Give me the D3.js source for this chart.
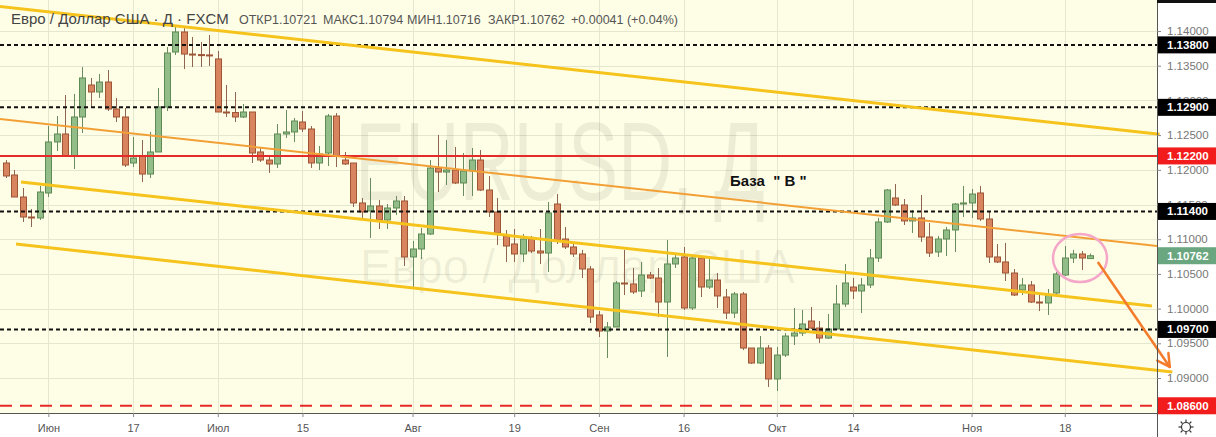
<!DOCTYPE html>
<html><head><meta charset="utf-8">
<script src="https://cdn.jsdelivr.net/npm/d3@7"></script>
<style>body{margin:0;background:#fff;}svg{display:block;font-family:"Liberation Sans",Arial,sans-serif;}</style>
</head><body><svg id="c" width="1216" height="437"></svg>
<script>
// ---- data ----
const opens=[1.12098,1.11925,1.11608,1.11320,1.11306,1.11666,1.12401,1.12516,1.12199,1.12761,
1.13222,1.13121,1.13265,1.12876,1.12761,1.12098,1.12199,1.11939,1.12257,1.12905,
1.13697,1.13986,1.13668,1.13660,1.13655,1.13597,1.12833,1.12825,1.12761,1.12833,
1.12257,1.12141,1.12084,1.12516,1.12545,1.12689,1.12588,1.12098,1.12242,1.12775,
1.12141,1.12098,1.11522,1.11407,1.11479,1.11277,1.11450,1.11551,1.10744,1.10859,
1.11075,1.12026,1.11968,1.11997,1.11810,1.11983,1.12141,1.11709,1.11392,1.11047,
1.10931,1.10787,1.11003,1.10830,1.10801,1.11507,1.11003,1.10888,1.10787,1.10571,
1.09908,1.09677,1.09735,1.10369,1.10355,1.10254,1.10484,1.10441,1.10095,1.10643,
1.10744,1.10009,1.10729,1.10311,1.10412,1.10167,1.09936,1.10211,1.09432,1.09216,
1.09432,1.08986,1.09331,1.09605,1.09648,1.09821,1.09720,1.09576,1.09706,1.10066,
1.10311,1.10254,1.10340,1.10729,1.11248,1.11594,1.11493,1.11263,1.11306,1.11032,
1.10816,1.11003,1.11133,1.11507,1.11522,1.11666,1.11291,1.10744,1.10672,1.10513,
1.10268,1.10340,1.10095,1.10081,1.10225,1.10484,1.10729,1.10787,1.10721];
const highs=[1.12141,1.11997,1.11738,1.11435,1.11767,1.12631,1.12775,1.13078,1.13093,1.13481,
1.13323,1.13380,1.13438,1.13035,1.12891,1.12473,1.12430,1.12545,1.13179,1.13769,
1.14058,1.14043,1.13914,1.13842,1.13942,1.13712,1.13222,1.13121,1.12948,1.12833,
1.12329,1.12185,1.12660,1.12862,1.12746,1.12847,1.12631,1.12343,1.12804,1.12818,
1.12257,1.12098,1.11594,1.11882,1.11565,1.11507,1.11623,1.11623,1.10975,1.11162,
1.12141,1.12502,1.12430,1.12329,1.12242,1.12314,1.12286,1.11911,1.11594,1.11133,
1.11147,1.11075,1.11047,1.11147,1.11536,1.11651,1.11176,1.10946,1.10845,1.10614,
1.09965,1.09807,1.10398,1.10845,1.10585,1.10672,1.10528,1.10585,1.10989,1.10787,
1.10888,1.10744,1.10758,1.10715,1.10513,1.10283,1.10240,1.10240,1.09432,1.09605,
1.09475,1.09447,1.09648,1.10009,1.09980,1.10023,1.09821,1.09922,1.10340,1.10643,
1.10441,1.10441,1.10859,1.11306,1.11723,1.11795,1.11579,1.11421,1.11637,1.11234,
1.11047,1.11176,1.11522,1.11767,1.11723,1.11767,1.11392,1.10931,1.10946,1.10571,
1.10441,1.10398,1.10196,1.10283,1.10528,1.10902,1.10845,1.10830,1.10794];
const lows=[1.11882,1.11608,1.11248,1.11176,1.11277,1.11608,1.12271,1.12199,1.12011,1.12530,
1.12905,1.13035,1.12847,1.12689,1.12040,1.12040,1.11824,1.11882,1.12257,1.12847,
1.13654,1.13452,1.13481,1.13481,1.13496,1.12833,1.12761,1.12689,1.12746,1.12098,
1.12112,1.11954,1.12026,1.12459,1.12401,1.12545,1.12026,1.11997,1.12055,1.12040,
1.12069,1.11464,1.11306,1.11018,1.11147,1.11147,1.11349,1.10614,1.10311,1.10715,
1.11061,1.11680,1.11781,1.11795,1.11623,1.11623,1.11694,1.11320,1.10917,1.10672,
1.10672,1.10672,1.10801,1.10643,1.10528,1.10931,1.10859,1.10744,1.10441,1.09792,
1.09590,1.09288,1.09735,1.10196,1.10211,1.10167,1.10427,1.09879,1.09303,1.10585,
1.09980,1.09980,1.10167,1.10283,1.10009,1.09850,1.09864,1.09403,1.09202,1.09202,
1.08871,1.08813,1.09303,1.09475,1.09605,1.09706,1.09504,1.09562,1.09706,1.10023,
1.10138,1.09936,1.10297,1.10672,1.11234,1.11479,1.11205,1.11090,1.10960,1.10744,
1.10744,1.10758,1.10816,1.11320,1.11306,1.11263,1.10657,1.10657,1.10398,1.10182,
1.10196,1.10081,1.09965,1.09908,1.10167,1.10470,1.10657,1.10556,1.10716];
const closes=[1.11911,1.11608,1.11320,1.11306,1.11680,1.12401,1.12516,1.12199,1.12761,1.13323,
1.13121,1.13265,1.12876,1.12761,1.12069,1.12170,1.11939,1.12257,1.12905,1.13683,
1.13986,1.13668,1.13660,1.13655,1.13650,1.12833,1.12825,1.12761,1.12833,1.12242,
1.12141,1.12084,1.12516,1.12545,1.12703,1.12588,1.12098,1.12228,1.12775,1.12199,
1.12084,1.11522,1.11392,1.11479,1.11277,1.11450,1.11551,1.10744,1.10859,1.11075,
1.12026,1.11968,1.11997,1.11810,1.11983,1.12141,1.11709,1.11392,1.11090,1.10902,
1.10787,1.11003,1.10830,1.10801,1.11378,1.10989,1.10888,1.10787,1.10571,1.09879,
1.09677,1.09735,1.10369,1.10355,1.10240,1.10484,1.10441,1.10095,1.10643,1.10729,
1.10009,1.10729,1.10311,1.10412,1.10182,1.09936,1.10211,1.09432,1.09216,1.09432,
1.08986,1.09331,1.09605,1.09648,1.09778,1.09720,1.09576,1.09706,1.10066,1.10369,
1.10254,1.10340,1.10729,1.11248,1.11709,1.11493,1.11263,1.11306,1.11032,1.10801,
1.11003,1.11133,1.11507,1.11522,1.11651,1.11291,1.10744,1.10672,1.10513,1.10196,
1.10340,1.10095,1.10081,1.10196,1.10499,1.10729,1.10787,1.10729,1.10762];

const xTickIdx=[5,15,25,35,48,60,70,80,91,100,114,125];
const xTickLabels=["Июн","17","Июл","15","Авг","19","Сен","16","Окт","14","Ноя","18"];
const yTicks=[1.09,1.095,1.10,1.105,1.11,1.115,1.12,1.125,1.13,1.135,1.14];
const blackLevels=[1.138,1.129,1.114,1.097];
const redLevels=[1.122];
const redDashedLevels=[1.086];
const lastPrice=1.10762;
// trend lines: [startIndex, startPrice, endIndex, endPrice]
const yellowLines=[[-0.71,1.14353,136.2,1.12512],[1.77,1.11824,135.3,1.10038],[1.18,1.10931,137.7,1.09086]];
const orangeLines=[[-0.71,1.12732,135.9,1.10902]];
const arrowLine=[128.9,1.10672,137.4,1.09159];
const circleCenter=[126.8,1.10729];
const header={title:"Евро / Доллар США · Д · FXCM",fields:["ОТКР1.10721","МАКС1.10794","МИН1.10716","ЗАКР1.10762","+0.00041 (+0.04%)"]};
const note="База  \" В \"";

// ---- layout ----
const W=1216,H=437,PW=1157,PH=413;
const svg=d3.select("#c");
const x=d3.scaleLinear().domain([-0.708,135.89]).range([0,PW]);
const y=d3.scaleLinear().domain([1.144467,1.084958]).range([0,PH]);

svg.append("rect").attr("width",W).attr("height",H).attr("fill","#fff");
svg.append("rect").attr("width",PW).attr("height",PH).attr("fill","#fefee6");
svg.append("defs").append("clipPath").attr("id","pc").append("rect").attr("width",PW).attr("height",PH);

// grid
const g=svg.append("g");
g.selectAll(".hg").data(yTicks).join("line").attr("x1",0).attr("x2",PW)
 .attr("y1",d=>Math.round(y(d))+0.5).attr("y2",d=>Math.round(y(d))+0.5).attr("stroke","#e4e6cf").attr("stroke-width",1);
g.selectAll(".vg").data(xTickIdx).join("line").attr("y1",0).attr("y2",PH)
 .attr("x1",d=>Math.round(x(d))+0.5).attr("x2",d=>Math.round(x(d))+0.5).attr("stroke","#e4e6cf").attr("stroke-width",1);

// watermark
svg.append("text").attr("x",355).attr("y",200).attr("font-size",112).attr("textLength",410)
 .attr("lengthAdjust","spacingAndGlyphs").attr("fill","#000").attr("fill-opacity",0.065).text("EURUSD, Д");
svg.append("text").attr("x",360).attr("y",283).attr("font-size",48).attr("textLength",435)
 .attr("lengthAdjust","spacingAndGlyphs").attr("fill","#000").attr("fill-opacity",0.065).text("Евро / Доллар США");

// candles
const idx=d3.range(opens.length);
const cg=svg.append("g").attr("clip-path","url(#pc)");
const up=i=>closes[i]>=opens[i];
cg.selectAll(".w").data(idx).join("line")
 .attr("x1",i=>Math.round(x(i))+0.5).attr("x2",i=>Math.round(x(i))+0.5)
 .attr("y1",i=>y(highs[i])).attr("y2",i=>y(lows[i]))
 .attr("stroke",i=>up(i)?"#6a8a60":"#8e6550").attr("stroke-width",1);
cg.selectAll(".b").data(idx).join("rect")
 .attr("x",i=>Math.round(x(i))-2.5).attr("width",6)
 .attr("y",i=>y(Math.max(opens[i],closes[i]))).attr("height",i=>Math.max(1,Math.abs(y(opens[i])-y(closes[i]))))
 .attr("fill",i=>up(i)?"#92bd89":"#d8845f").attr("stroke",i=>up(i)?"#5e8a55":"#9d5536").attr("stroke-width",1);

// horizontal levels
svg.selectAll(".bl").data(blackLevels).join("line").attr("x1",0).attr("x2",PW)
 .attr("y1",d=>y(d)).attr("y2",d=>y(d)).attr("stroke","#111").attr("stroke-width",2).attr("stroke-dasharray","4,3");
svg.selectAll(".rl").data(redLevels).join("line").attr("x1",0).attr("x2",PW)
 .attr("y1",d=>y(d)).attr("y2",d=>y(d)).attr("stroke","#e52a2a").attr("stroke-width",2);
svg.selectAll(".rdl").data(redDashedLevels).join("line").attr("x1",0).attr("x2",PW)
 .attr("y1",d=>y(d)).attr("y2",d=>y(d)).attr("stroke","#e52a2a").attr("stroke-width",2).attr("stroke-dasharray","12,8");

// trend lines
svg.selectAll(".yl").data(yellowLines).join("line")
 .attr("x1",d=>x(d[0])).attr("y1",d=>y(d[1])).attr("x2",d=>x(d[2])).attr("y2",d=>y(d[3]))
 .attr("stroke","#f5c31c").attr("stroke-width",3);
svg.selectAll(".ol").data(orangeLines).join("line")
 .attr("x1",d=>x(d[0])).attr("y1",d=>y(d[1])).attr("x2",d=>x(d[2])).attr("y2",d=>y(d[3]))
 .attr("stroke","#f2a035").attr("stroke-width",2);

// note text
svg.append("text").attr("x",730).attr("y",186).attr("font-size",15).attr("font-weight","bold").attr("fill","#111")
 .attr("xml:space","preserve").style("white-space","pre").text(note);

// circle
svg.append("ellipse").attr("cx",x(circleCenter[0])).attr("cy",y(circleCenter[1])).attr("rx",27).attr("ry",24)
 .attr("fill","none").attr("stroke","#f4a7c8").attr("stroke-width",2.5);

// arrow
const ax1=x(arrowLine[0]),ay1=y(arrowLine[1]),ax2=x(arrowLine[2]),ay2=y(arrowLine[3]);
svg.append("line").attr("x1",ax1).attr("y1",ay1).attr("x2",ax2).attr("y2",ay2).attr("stroke","#f47b2a").attr("stroke-width",2.5);
const ang=Math.atan2(ay2-ay1,ax2-ax1),hl=14,ha=0.5;
[ang+Math.PI-ha,ang+Math.PI+ha].forEach(a=>{
 svg.append("line").attr("x1",ax2).attr("y1",ay2).attr("x2",ax2+hl*Math.cos(a)).attr("y2",ay2+hl*Math.sin(a))
  .attr("stroke","#f47b2a").attr("stroke-width",2.5).attr("stroke-linecap","round");
});

// header
svg.append("text").attr("x",11).attr("y",24).attr("font-size",15).attr("fill","#444").text(header.title);
const hx=[239,323,407,488,571];
header.fields.forEach((t,i)=>svg.append("text").attr("x",hx[i]).attr("y",24).attr("font-size",12.5).attr("fill","#555").text(t));

// axes borders
svg.append("line").attr("x1",PW+0.5).attr("x2",PW+0.5).attr("y1",0).attr("y2",H).attr("stroke","#555");
svg.append("line").attr("x1",0).attr("x2",PW+0.5).attr("y1",PH+0.5).attr("y2",PH+0.5).attr("stroke","#555");
svg.append("rect").attr("x",PW).attr("y",0).attr("width",W-PW).attr("height",3).attr("fill","#111");

// right axis
const ra=svg.append("g").attr("transform",`translate(${PW},0)`)
 .call(d3.axisRight(y).tickValues(yTicks).tickSize(4).tickPadding(6).tickFormat(d=>d.toFixed(5)));
ra.select(".domain").remove();
ra.selectAll("line").attr("stroke","#888");
ra.selectAll("text").attr("font-size",11.5).attr("fill","#777").attr("font-family","Liberation Sans, Arial, sans-serif");

// bottom axis
const ba=svg.append("g").attr("transform",`translate(0,${PH})`)
 .call(d3.axisBottom(x).tickValues(xTickIdx).tickSize(4).tickPadding(7).tickFormat((d,i)=>xTickLabels[i]));
ba.select(".domain").remove();
ba.selectAll("line").attr("stroke","#888");
ba.selectAll("text").attr("font-size",11).attr("fill","#555").attr("font-family","Liberation Sans, Arial, sans-serif");

// price boxes
const boxes=[...blackLevels.map(v=>({v,c:"#000"})),...redLevels.map(v=>({v,c:"#f21c1c"})),...redDashedLevels.map(v=>({v,c:"#f21c1c"})),{v:lastPrice,c:"#6aa67f"}];
const bg=svg.append("g");
boxes.forEach(b=>{
 bg.append("rect").attr("x",PW+1).attr("y",y(b.v)-8.5).attr("width",W-PW-1).attr("height",17).attr("fill",b.c);
 bg.append("text").attr("x",PW+10).attr("y",y(b.v)+4).attr("font-size",11.5).attr("font-weight","bold").attr("fill","#fff").text(b.v.toFixed(5));
});

// settings icon
const gi=svg.append("g").attr("transform","translate(1186,427)");
gi.append("circle").attr("r",4.5).attr("fill","none").attr("stroke","#333").attr("stroke-width",1.2);
d3.range(8).forEach(k=>{const a=k*Math.PI/4;gi.append("line").attr("x1",5*Math.cos(a)).attr("y1",5*Math.sin(a)).attr("x2",7.5*Math.cos(a)).attr("y2",7.5*Math.sin(a)).attr("stroke","#333").attr("stroke-width",1.2);});
</script></body></html>
